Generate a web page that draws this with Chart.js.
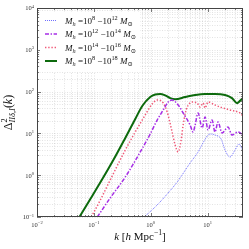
<!DOCTYPE html>
<html><head><meta charset="utf-8">
<script src="https://cdn.jsdelivr.net/npm/chart.js@4"></script>
<style>html,body{margin:0;padding:0;background:#fff}canvas{display:block}</style>
</head><body>
<canvas id="c" width="249" height="249"></canvas>
<script>
// ---- data ----
const seriesLabels = [
  'M_h =10^{8} −10^{12} M_⊙',
  'M_h =10^{12} −10^{14} M_⊙',
  'M_h =10^{14} −10^{16} M_⊙',
  'M_h =10^{8} −10^{18} M_⊙'
];
const kBlue = [0.769, 1.30, 1.95, 2.92, 4.93, 6.81, 8.69, 10.2, 11.5, 13.5, 17.3, 20.3, 24.8, 30.4, 35.7, 42];
const dBlue = [0.1, 0.194, 0.355, 0.687, 1.96, 3.59, 6.58, 9.16, 9.68, 9.16, 7.35, 4.0, 2.72, 4.0, 5.57, 3.79];
const kPurple = [0.115, 0.194, 0.357, 0.655, 0.98, 1.30, 1.66, 2.03, 2.38, 3.04, 3.72, 4.93, 5.57, 6.04, 6.81, 8.01, 9.04, 10.2, 12.0, 13.5, 15.3, 18.0, 22.9, 26.9, 34.3, 42];
const dPurple = [0.1, 0.285, 0.905, 3.59, 9.68, 20.9, 36.3, 56.4, 63, 47.8, 30.8, 15.9, 10.8, 15.9, 30.8, 13.5, 24.7, 12.1, 20.9, 10.8, 18.7, 10.2, 14.2, 9.16, 10.8, 9.16];
const kRed = [0.0903, 0.130, 0.194, 0.357, 0.535, 0.802, 1.06, 1.30, 1.66, 1.95, 2.38, 2.69, 3.04, 3.43, 3.72, 4.20, 4.73, 5.35, 6.55, 7.38, 8.34, 9.04, 10.2, 13.5, 16.6, 24.8, 37.2, 42];
const dRed = [0.1, 0.255, 0.77, 4.0, 10.8, 27.6, 50.5, 63, 53.4, 32.5, 10.8, 5.3, 3.6, 6.95, 15.9, 36.3, 50.5, 56.4, 53.4, 42.8, 53.4, 40.5, 56.4, 47.8, 42.8, 36.3, 30.8, 26.1];
const kGreen = [0.0557, 0.0868, 0.141, 0.220, 0.357, 0.535, 0.710, 0.98, 1.20, 1.47, 1.80, 2.20, 2.69, 4.03, 6.04, 9.04, 13.5, 20.3, 26.9, 33.0, 37.2, 42];
const dGreen = [0.1, 0.27, 0.81, 2.31, 7.8, 22.1, 45.3, 74.3, 85, 88, 81, 70, 66, 74, 83, 88, 88, 83, 70, 53, 60, 70];
const xTickLabels = ['10^{−2}', '10^{−1}', '10^{0}', '10^{1}'];
const xTickValues = [0.01, 0.1, 1, 10];
const yTickLabels = ['10^{−1}', '10^{0}', '10^{1}', '10^{2}', '10^{3}', '10^{4}'];
const yTickValues = [0.1, 1, 10, 100, 1000, 10000];
const xTitle = 'k [h \\rm{Mpc}^{−1}]';
const yTitle = 'Δ^{2}_{IIδ,I}(k)';

// ---- styles ----
const styles = [
  {color:'#5f5fff', width:0.9, dash:[1,1]},
  {color:'#a62ee6', width:1.5, dash:[4,1.6,1.4,1.6]},
  {color:'#f05a78', width:1.5, dash:[1.4,1.8]},
  {color:'#0d6a0d', width:2.0, dash:[]}
];
const kArrays = [kBlue, kPurple, kRed, kGreen];
const dArrays = [dBlue, dPurple, dRed, dGreen];
const FONT = "'Liberation Serif', 'DejaVu Serif', serif";

function logTicks(min, max){
  const out=[];
  for(let e=Math.floor(Math.log10(min)); e<=Math.ceil(Math.log10(max)); e++){
    for(let m=1;m<10;m++){ const v=m*Math.pow(10,e); if(v>=min*0.999 && v<=max*1.001) out.push({v, major:m===1}); }
  }
  return out;
}
function parseRich(s){
  const runs=[]; let i=0;
  while(i<s.length){
    const c=s[i];
    if(c==='^'||c==='_'){
      const lvl=c==='^'?1:-1; i++; let t;
      if(s[i]==='{'){ const j=s.indexOf('}',i); t=s.slice(i+1,j); i=j+1; } else { t=s[i]; i++; }
      runs.push({t,lvl,rm:false});
    } else if(s.startsWith('\\rm{',i)){
      const j=s.indexOf('}',i); runs.push({t:s.slice(i+4,j),lvl:0,rm:true}); i=j+1;
    } else {
      let j=i; while(j<s.length && !'^_\\'.includes(s[j])) j++;
      runs.push({t:s.slice(i,j),lvl:0,rm:false}); i=j;
    }
  }
  return runs;
}
function layoutRich(ctx, s, size){
  const runs=parseRich(s); const items=[]; let cx=0; let prev=null;
  for(const r of runs){
    const fs=r.lvl? size*0.7 : size;
    const dy=r.lvl===1? -size*0.42 : r.lvl===-1? size*0.25 : 0;
    let start=cx;
    const stacked = r.lvl && prev && prev.lvl!==r.lvl;
    if(stacked) start=prev.start;
    let px=start;
    for(const ch of r.t){
      const it=!r.rm && /[A-Za-zα-ω]/.test(ch);
      const f=(it?'italic ':'')+fs+'px '+FONT;
      ctx.font=f; const w=ctx.measureText(ch).width;
      items.push({ch,x:px,dy,font:f}); px+=w;
    }
    if(r.lvl){
      if(stacked){ cx=Math.max(px,prev.end); prev=null; }
      else { prev={lvl:r.lvl,start,end:px}; cx=px; }
    } else { prev=null; cx=px; }
  }
  return {items,width:cx};
}
function drawRich(ctx, s, x, y, size, align, color){
  const L=layoutRich(ctx,s,size);
  const ox= align==='center'? x-L.width/2 : align==='right'? x-L.width : x;
  ctx.fillStyle=color; ctx.textBaseline='alphabetic'; ctx.textAlign='left';
  for(const it of L.items){ ctx.font=it.font; ctx.fillText(it.ch, ox+it.x, y+it.dy); }
}

const deco = {
  id:'deco',
  beforeDatasetsDraw(chart){
    const {ctx, chartArea:a, scales:{x,y}} = chart;
    ctx.save();
    ctx.strokeStyle='rgba(0,0,0,0.16)'; ctx.lineWidth=0.7; ctx.setLineDash([1,1.5]);
    for(const t of logTicks(x.min,x.max)){
      const p=Math.round(x.getPixelForValue(t.v))+0.5;
      ctx.beginPath(); ctx.moveTo(p,a.top); ctx.lineTo(p,a.bottom); ctx.stroke();
    }
    for(const t of logTicks(y.min,y.max)){
      const p=Math.round(y.getPixelForValue(t.v))+0.5;
      ctx.beginPath(); ctx.moveTo(a.left,p); ctx.lineTo(a.right,p); ctx.stroke();
    }
    ctx.restore();
  },
  afterDatasetsDraw(chart){
    const {ctx, chartArea:a, scales:{x,y}} = chart;
    ctx.save();
    ctx.strokeStyle='#444'; ctx.lineWidth=1; ctx.setLineDash([]);
    ctx.strokeRect(Math.round(a.left)+0.5, Math.round(a.top)+0.5, Math.round(a.right-a.left)-1, Math.round(a.bottom-a.top)-1);
    ctx.lineWidth=0.7;
    for(const t of logTicks(x.min,x.max)){
      const p=Math.round(x.getPixelForValue(t.v))+0.5; const L=t.major?4:2;
      ctx.beginPath(); ctx.moveTo(p,a.bottom); ctx.lineTo(p,a.bottom-L); ctx.moveTo(p,a.top); ctx.lineTo(p,a.top+L); ctx.stroke();
    }
    for(const t of logTicks(y.min,y.max)){
      const p=Math.round(y.getPixelForValue(t.v))+0.5; const L=t.major?4:2;
      ctx.beginPath(); ctx.moveTo(a.left,p); ctx.lineTo(a.left+L,p); ctx.moveTo(a.right,p); ctx.lineTo(a.right-L,p); ctx.stroke();
    }
    xTickValues.forEach((v,i)=>drawRich(ctx, xTickLabels[i], x.getPixelForValue(v), a.bottom+10, 6.5, 'center', '#333'));
    yTickValues.forEach((v,i)=>drawRich(ctx, yTickLabels[i], a.left-3, y.getPixelForValue(v)+2.3, 6.5, 'right', '#333'));
    drawRich(ctx, xTitle, (a.left+a.right)/2, 240, 11, 'center', '#111');
    ctx.save(); ctx.translate(12,(a.top+a.bottom)/2); ctx.rotate(-Math.PI/2);
    drawRich(ctx, yTitle, 0, 0, 12, 'center', '#111'); ctx.restore();
    ctx.fillStyle='#fff'; ctx.fillRect(a.left+3, a.top+4, 100, 60);
    const ys=[20.5,34,47.5,61];
    chart.data.datasets.forEach((ds,i)=>{
      ctx.strokeStyle=ds.borderColor; ctx.lineWidth=ds.borderWidth; ctx.setLineDash(ds.borderDash||[]);
      ctx.beginPath(); ctx.moveTo(45,ys[i]); ctx.lineTo(57,ys[i]); ctx.stroke();
      ctx.setLineDash([]);
      drawRich(ctx, ds.label, 65, ys[i]+3, 9, 'left', '#111');
    });
    ctx.restore();
  }
};

new Chart(document.getElementById('c'), {
  type:'scatter',
  data:{datasets: seriesLabels.map((lab,i)=>({
    label:lab,
    data:kArrays[i].map((k,j)=>({x:k,y:dArrays[i][j]})),
    showLine:true, pointRadius:0, borderColor:styles[i].color, borderWidth:styles[i].width,
    borderDash:styles[i].dash, cubicInterpolationMode:'monotone', fill:false
  }))},
  options:{
    responsive:false, animation:false, devicePixelRatio:1,
    layout:{padding:{left:0,top:8,right:6,bottom:0}},
    plugins:{legend:{display:false}, tooltip:{enabled:false}},
    scales:{
      x:{type:'logarithmic', min:0.01, max:42, grid:{display:false}, border:{display:false}, ticks:{display:false}, afterFit(s){s.height=32;}},
      y:{type:'logarithmic', min:0.1, max:10000, grid:{display:false}, border:{display:false}, ticks:{display:false}, afterFit(s){s.width=37;}}
    }
  },
  plugins:[deco]
});
</script>
</body></html>
